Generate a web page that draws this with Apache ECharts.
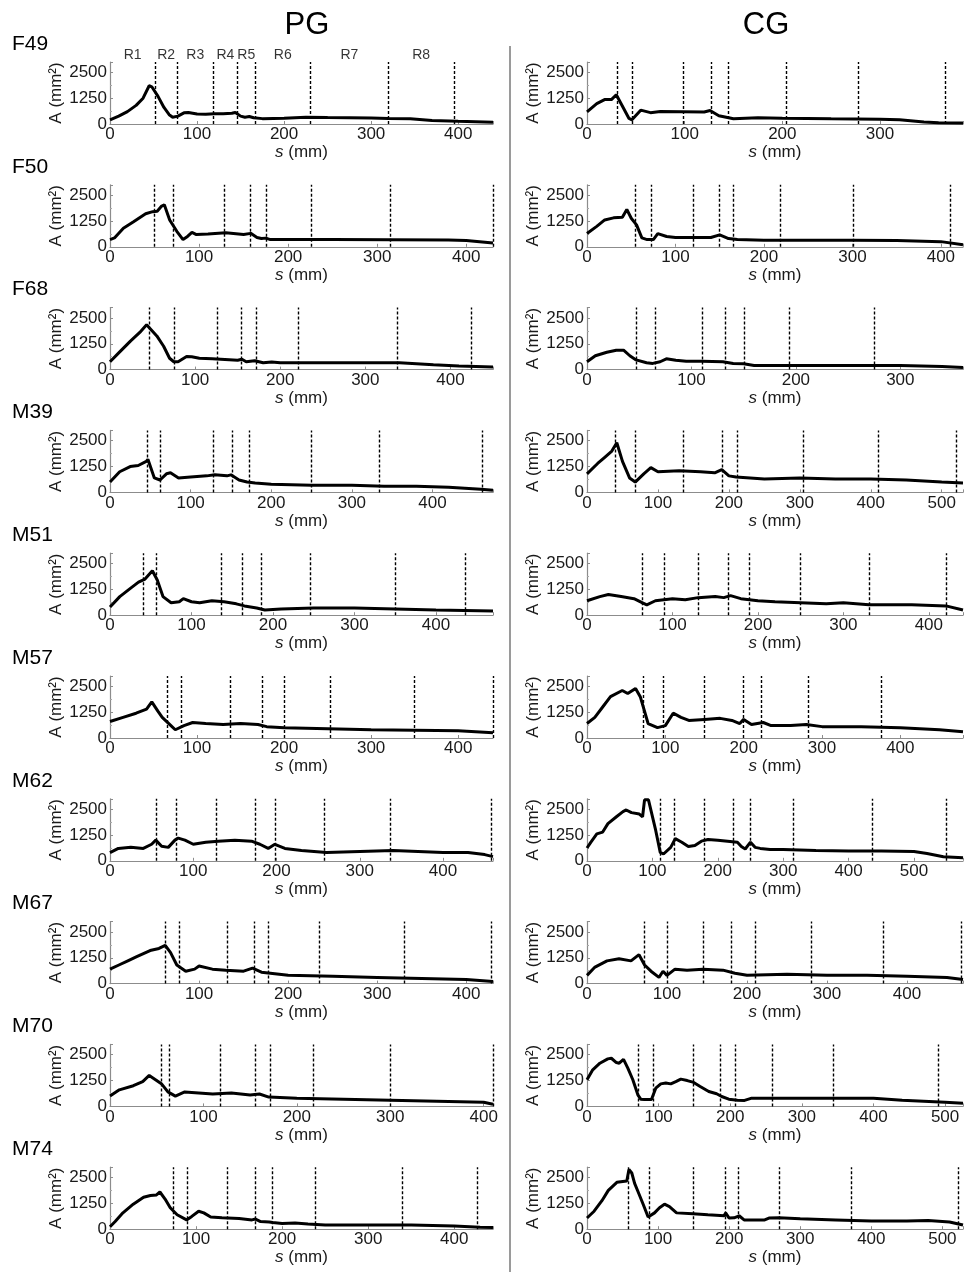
<!DOCTYPE html>
<html>
<head>
<meta charset="utf-8">
<script src="https://cdn.jsdelivr.net/npm/echarts@6/dist/echarts.min.js"></script>
<style>
html,body{margin:0;padding:0;background:#fff;}
#chart{width:966px;height:1272px;}
</style>
</head>
<body>
<div id="chart"></div>
<script>
// ---------- DATA ----------
const subjects = ['F49','F50','F68','M39','M51','M57','M62','M67','M70','M74'];
const groups = ['PG','CG'];
const regionNames = ['R1','R2','R3','R4','R5','R6','R7','R8'];
const yTickValues = [0, 1250, 2500];

// x-axis extent (mm) of each panel
const xMaxPG = [440, 430, 450, 475, 470, 440, 460, 430, 410, 445];
const xMaxCG = [385, 425, 360, 530, 440, 480, 575, 470, 525, 529];

// region boundaries (dashed lines, mm)
const F49_PG_bounds = [52, 77, 119, 146, 167, 230, 320, 395];
const F50_PG_bounds = [50, 71, 128, 157, 175, 226, 315, 430];
const F68_PG_bounds = [46, 76, 126, 154, 172, 221, 337, 425];
const M39_PG_bounds = [46, 62, 128, 151, 173, 250, 334, 462];
const M51_PG_bounds = [41, 57, 137, 162, 185, 246, 350, 436];
const M57_PG_bounds = [66, 82, 138, 175, 200, 253, 350, 440];
const M62_PG_bounds = [55, 80, 128, 175, 198, 257, 336, 458];
const M67_PG_bounds = [62, 78, 132, 162, 178, 235, 330, 428];
const M70_PG_bounds = [55, 63, 118, 155, 172, 218, 300, 410];
const M74_PG_bounds = [73, 90, 136, 169, 189, 239, 340, 427];

const F49_CG_bounds = [31, 46, 99, 127, 145, 204, 278, 367];
const F50_CG_bounds = [55, 73, 120, 150, 165, 218, 301, 411];
const F68_CG_bounds = [47, 65, 110, 132, 151, 194, 275];
const M39_CG_bounds = [40, 68, 135, 190, 212, 305, 410, 520];
const M51_CG_bounds = [65, 90, 130, 165, 190, 250, 330, 420];
const M57_CG_bounds = [72, 97, 150, 200, 222, 282, 375];
const M62_CG_bounds = [112, 134, 180, 224, 250, 316, 436, 550];
const M67_CG_bounds = [72, 100, 145, 180, 210, 280, 370, 468];
const M70_CG_bounds = [71, 92, 149, 186, 207, 259, 344, 491];
const M74_CG_bounds = [58, 88, 150, 194, 213, 271, 372, 522];

// cross-sectional area A (mm^2) along s (mm): [s, A]
const F49_PG = [[0,200],[10,380],[20,600],[30,900],[38,1250],[45,1850],[48,1800],[55,1350],[62,800],[68,450],[72,330],[78,380],[85,540],[90,560],[100,480],[110,470],[120,500],[130,500],[140,520],[144,560],[150,380],[155,330],[160,360],[165,300],[175,260],[200,280],[225,330],[250,310],[300,290],[320,270],[345,250],[370,170],[400,130],[440,80]];
const F50_PG = [[0,350],[5,430],[15,900],[26,1200],[40,1600],[48,1700],[53,1720],[58,1970],[61,2030],[67,1300],[75,750],[82,350],[87,500],[92,700],[97,590],[110,620],[130,680],[150,600],[158,650],[165,450],[170,400],[175,420],[180,350],[250,350],[380,330],[400,300],[430,180]];
const F68_PG = [[0,380],[12,880],[24,1380],[35,1800],[43,2170],[45,2200],[55,1630],[63,1130],[70,550],[75,380],[80,380],[90,630],[96,620],[105,550],[120,520],[130,500],[150,450],[155,500],[160,380],[170,430],[180,330],[190,370],[200,330],[300,330],[340,330],[360,280],[380,230],[410,170],[450,130]];
const M39_PG = [[0,500],[12,1000],[25,1250],[35,1300],[45,1500],[47,1600],[55,700],[62,600],[70,900],[75,950],[85,700],[100,750],[120,800],[130,850],[145,800],[150,850],[160,600],[170,500],[180,450],[200,400],[250,350],[300,350],[340,300],[380,300],[420,250],[460,150],[475,100]];
const M51_PG = [[0,400],[12,900],[25,1300],[35,1600],[43,1750],[52,2150],[58,1700],[65,900],[75,600],[85,650],[90,800],[100,650],[110,600],[125,700],[140,650],[155,550],[165,450],[180,350],[190,250],[210,300],[250,350],[300,350],[350,300],[400,250],[470,200]];
const M57_PG = [[0,800],[15,1000],[30,1200],[42,1400],[48,1750],[55,1300],[60,1000],[70,600],[75,400],[85,600],[95,750],[110,700],[130,650],[150,700],[170,650],[180,550],[200,500],[250,450],[300,400],[350,380],[400,350],[440,250]];
const M62_PG = [[0,400],[10,600],[25,650],[40,600],[50,800],[55,1000],[62,700],[70,650],[78,1000],[82,1100],[90,1000],[100,800],[115,900],[130,950],[150,1000],[170,950],[180,800],[190,600],[198,800],[210,600],[230,500],[260,400],[300,450],[340,500],[400,400],[430,400],[450,300],[460,200]];
const M67_PG = [[0,700],[10,900],[20,1100],[30,1300],[45,1600],[55,1700],[62,1850],[68,1500],[75,900],[85,600],[95,700],[100,850],[115,700],[130,650],[150,600],[160,750],[170,550],[180,500],[200,400],[250,350],[300,300],[350,250],[400,200],[430,100]];
const M70_PG = [[0,500],[10,800],[25,1000],[35,1200],[42,1500],[55,1100],[62,700],[70,500],[80,700],[95,650],[110,600],[130,650],[150,550],[160,600],[170,450],[200,400],[250,350],[300,300],[350,250],[400,200],[410,100]];
const M74_PG = [[0,120],[6,370],[15,790],[27,1210],[39,1545],[47,1630],[54,1660],[58,1800],[60,1880],[64,1460],[70,1040],[78,700],[89,450],[95,620],[103,870],[109,790],[117,590],[130,550],[150,520],[165,450],[169,490],[175,370],[185,350],[189,320],[200,280],[215,300],[230,250],[250,200],[350,200],[400,150],[430,100],[445,80]];

const F49_CG = [[0,590],[10,985],[18,1180],[25,1180],[30,1415],[37,800],[43,270],[46,200],[55,670],[65,550],[75,600],[120,580],[126,650],[135,400],[145,300],[150,250],[175,300],[200,280],[250,250],[300,230],[320,200],[345,100],[360,60],[385,50]];
const F50_CG = [[0,640],[11,990],[20,1300],[30,1400],[40,1430],[45,1810],[50,1380],[56,1060],[62,430],[68,350],[75,350],[80,640],[90,500],[100,450],[140,450],[150,580],[160,400],[170,350],[200,320],[300,320],[350,300],[400,250],[425,100]];
const F68_CG = [[0,380],[8,670],[19,840],[28,940],[35,940],[41,670],[47,470],[57,330],[63,300],[70,380],[76,520],[85,450],[95,400],[110,400],[130,380],[140,300],[150,280],[160,200],[200,200],[300,200],[340,150],[360,100]];
const M39_CG = [[0,900],[15,1400],[25,1700],[35,2000],[42,2400],[50,1500],[60,700],[68,500],[80,900],[90,1200],[100,1000],[130,1050],[160,1000],[180,950],[190,1100],[200,800],[210,750],[230,700],[250,650],[300,700],[350,650],[400,650],[450,600],[500,500],[530,450]];
const M51_CG = [[0,700],[15,900],[25,1000],[40,900],[55,800],[65,600],[70,500],[80,700],[100,800],[115,750],[130,850],[150,900],[160,850],[168,950],[180,800],[200,700],[220,650],[250,600],[280,550],[300,600],[330,500],[380,500],[420,450],[440,250]];
const M57_CG = [[0,700],[10,1000],[20,1500],[30,2000],[45,2300],[52,2150],[62,2400],[68,2000],[78,700],[90,500],[100,600],[110,1200],[120,1000],[130,850],[150,900],[170,950],[185,850],[195,700],[200,900],[210,650],[225,750],[235,600],[260,600],[280,650],[300,550],[350,550],[400,500],[450,400],[480,300]];
const M62_CG = [[0,620],[6,900],[15,1300],[24,1390],[32,1800],[45,2130],[55,2380],[60,2460],[68,2330],[80,2260],[85,2130],[88,2950],[94,2950],[105,1480],[112,410],[117,330],[128,650],[135,1070],[145,900],[155,690],[165,740],[175,950],[185,1030],[200,1000],[215,950],[230,900],[236,690],[242,570],[250,900],[257,650],[265,600],[280,550],[300,550],[350,500],[400,480],[450,480],[500,450],[520,350],[545,200],[575,150]];
const M67_CG = [[0,400],[10,800],[25,1100],[40,1200],[55,1100],[65,1400],[72,900],[80,600],[90,300],[95,600],[100,400],[110,700],[125,650],[145,700],[170,650],[185,500],[200,400],[250,450],[300,400],[350,400],[400,350],[450,300],[470,200]];
const M70_CG = [[0,1290],[8,1770],[18,2090],[29,2300],[34,2330],[41,2120],[45,2090],[51,2280],[57,1850],[64,1290],[71,560],[75,350],[80,330],[90,330],[92,400],[96,880],[103,1090],[110,1130],[117,1090],[124,1200],[131,1320],[140,1250],[149,1160],[158,965],[170,720],[181,610],[188,480],[198,350],[210,300],[220,290],[230,400],[250,400],[400,400],[420,350],[440,300],[470,250],[500,200],[525,150]];
const M74_CG = [[0,540],[10,870],[21,1380],[30,1880],[42,2270],[56,2330],[59,2890],[63,2720],[67,2220],[72,1800],[79,1210],[86,590],[88,540],[95,790],[102,1040],[109,1210],[116,1090],[126,790],[149,750],[170,700],[193,650],[195,790],[200,540],[207,550],[214,650],[221,450],[250,450],[256,540],[270,550],[300,500],[350,450],[400,400],[450,400],[480,420],[510,350],[529,200]];

const curvesPG = [F49_PG, F50_PG, F68_PG, M39_PG, M51_PG, M57_PG, M62_PG, M67_PG, M70_PG, M74_PG];
const curvesCG = [F49_CG, F50_CG, F68_CG, M39_CG, M51_CG, M57_CG, M62_CG, M67_CG, M70_CG, M74_CG];
const boundsPG = [F49_PG_bounds, F50_PG_bounds, F68_PG_bounds, M39_PG_bounds, M51_PG_bounds, M57_PG_bounds, M62_PG_bounds, M67_PG_bounds, M70_PG_bounds, M74_PG_bounds];
const boundsCG = [F49_CG_bounds, F50_CG_bounds, F68_CG_bounds, M39_CG_bounds, M51_CG_bounds, M57_CG_bounds, M62_CG_bounds, M67_CG_bounds, M70_CG_bounds, M74_CG_bounds];

// ---------- LAYOUT ----------
const FONT = 'Liberation Sans, Arial, Helvetica, sans-serif';
const rowBottom0 = 124, rowStep = 122.8, plotH = 62;
const colLayout = [{left: 110, width: 383}, {left: 587, width: 379}];

const grids = [], xAxes = [], yAxes = [], series = [], graphics = [];

for (let i = 0; i < subjects.length; i++) {
  const bottom = rowBottom0 + rowStep * i;
  for (let c = 0; c < 2; c++) {
    const idx = i * 2 + c;
    const xmax = c === 0 ? xMaxPG[i] : xMaxCG[i];
    const curve = c === 0 ? curvesPG[i] : curvesCG[i];
    const bounds = c === 0 ? boundsPG[i] : boundsCG[i];
    grids.push({left: colLayout[c].left, width: colLayout[c].width, top: bottom - plotH, height: plotH, containLabel: false});
    xAxes.push({
      type: 'value', gridIndex: idx, min: 0, max: xmax, interval: 100,
      axisLine: {lineStyle: {color: '#8c8c8c', width: 1.2}},
      axisTick: {inside: true, length: 3, lineStyle: {color: '#8c8c8c'}},
      splitLine: {show: false},
      axisLabel: {margin: 2, fontSize: 17, color: '#1a1a1a', fontFamily: FONT,
        formatter: v => (v % 100 === 0 ? String(v) : '')},
      name: '{i|s} (mm)', nameLocation: 'middle', nameGap: 20,
      nameTextStyle: {fontSize: 17, color: '#1a1a1a', fontFamily: FONT,
        rich: {i: {fontStyle: 'italic', fontSize: 17, color: '#1a1a1a', fontFamily: FONT}}}
    });
    yAxes.push({
      type: 'value', gridIndex: idx, min: 0, max: 3000, interval: 1250,
      axisLine: {show: true, lineStyle: {color: '#8c8c8c', width: 1.2}},
      axisTick: {show: true, inside: true, length: 3, lineStyle: {color: '#8c8c8c'}},
      minorTick: {show: true, splitNumber: 2, length: 2, lineStyle: {color: '#a8a8a8'}},
      splitLine: {show: false},
      axisLabel: {margin: 3, fontSize: 17, color: '#1a1a1a', fontFamily: FONT,
        formatter: v => (yTickValues.indexOf(v) >= 0 ? String(v) : '')},
      name: 'A (mm²)', nameLocation: 'middle', nameGap: 43,
      nameTextStyle: {fontSize: 17, color: '#1a1a1a', fontFamily: FONT}
    });
    series.push({
      type: 'line', xAxisIndex: idx, yAxisIndex: idx, data: curve,
      showSymbol: false, symbol: 'none', smooth: false,
      lineStyle: {color: '#000', width: 3},
      markLine: {
        silent: true, symbol: 'none', label: {show: false},
        lineStyle: {color: '#000', width: 1.4, type: [3, 2]},
        data: bounds.map(v => ({xAxis: v}))
      }
    });
  }
  graphics.push({type: 'text', x: 12, y: bottom - 80,
    style: {text: subjects[i], font: '21px ' + FONT, fill: '#000', textVerticalAlign: 'middle'}});
}

// region labels above first PG panel, centred between region boundaries
const regionEdges = [0].concat(F49_PG_bounds);
series.push({
  type: 'scatter', xAxisIndex: 0, yAxisIndex: 0, symbolSize: 1,
  itemStyle: {color: 'transparent'}, silent: true, clip: false,
  label: {show: true, position: 'top', distance: -1, formatter: '{b}', fontSize: 14, color: '#000', fontFamily: FONT},
  data: regionNames.map((n, k) => ({name: n, value: [(regionEdges[k] + regionEdges[k + 1]) / 2, 3000]}))
});

// column titles & separator
graphics.push({type: 'text', x: 307, y: 25, style: {text: groups[0], font: '31px ' + FONT, fill: '#000', textAlign: 'center', textVerticalAlign: 'middle'}});
graphics.push({type: 'text', x: 766, y: 25, style: {text: groups[1], font: '31px ' + FONT, fill: '#000', textAlign: 'center', textVerticalAlign: 'middle'}});
graphics.push({type: 'line', shape: {x1: 510, y1: 46, x2: 510, y2: 1272}, style: {stroke: '#9a9a9a', lineWidth: 2}});

const chart = echarts.init(document.getElementById('chart'), null, {renderer: 'canvas'});
chart.setOption({
  animation: false,
  backgroundColor: '#fff',
  grid: grids, xAxis: xAxes, yAxis: yAxes, series: series,
  graphic: graphics
});
</script>
</body>
</html>
